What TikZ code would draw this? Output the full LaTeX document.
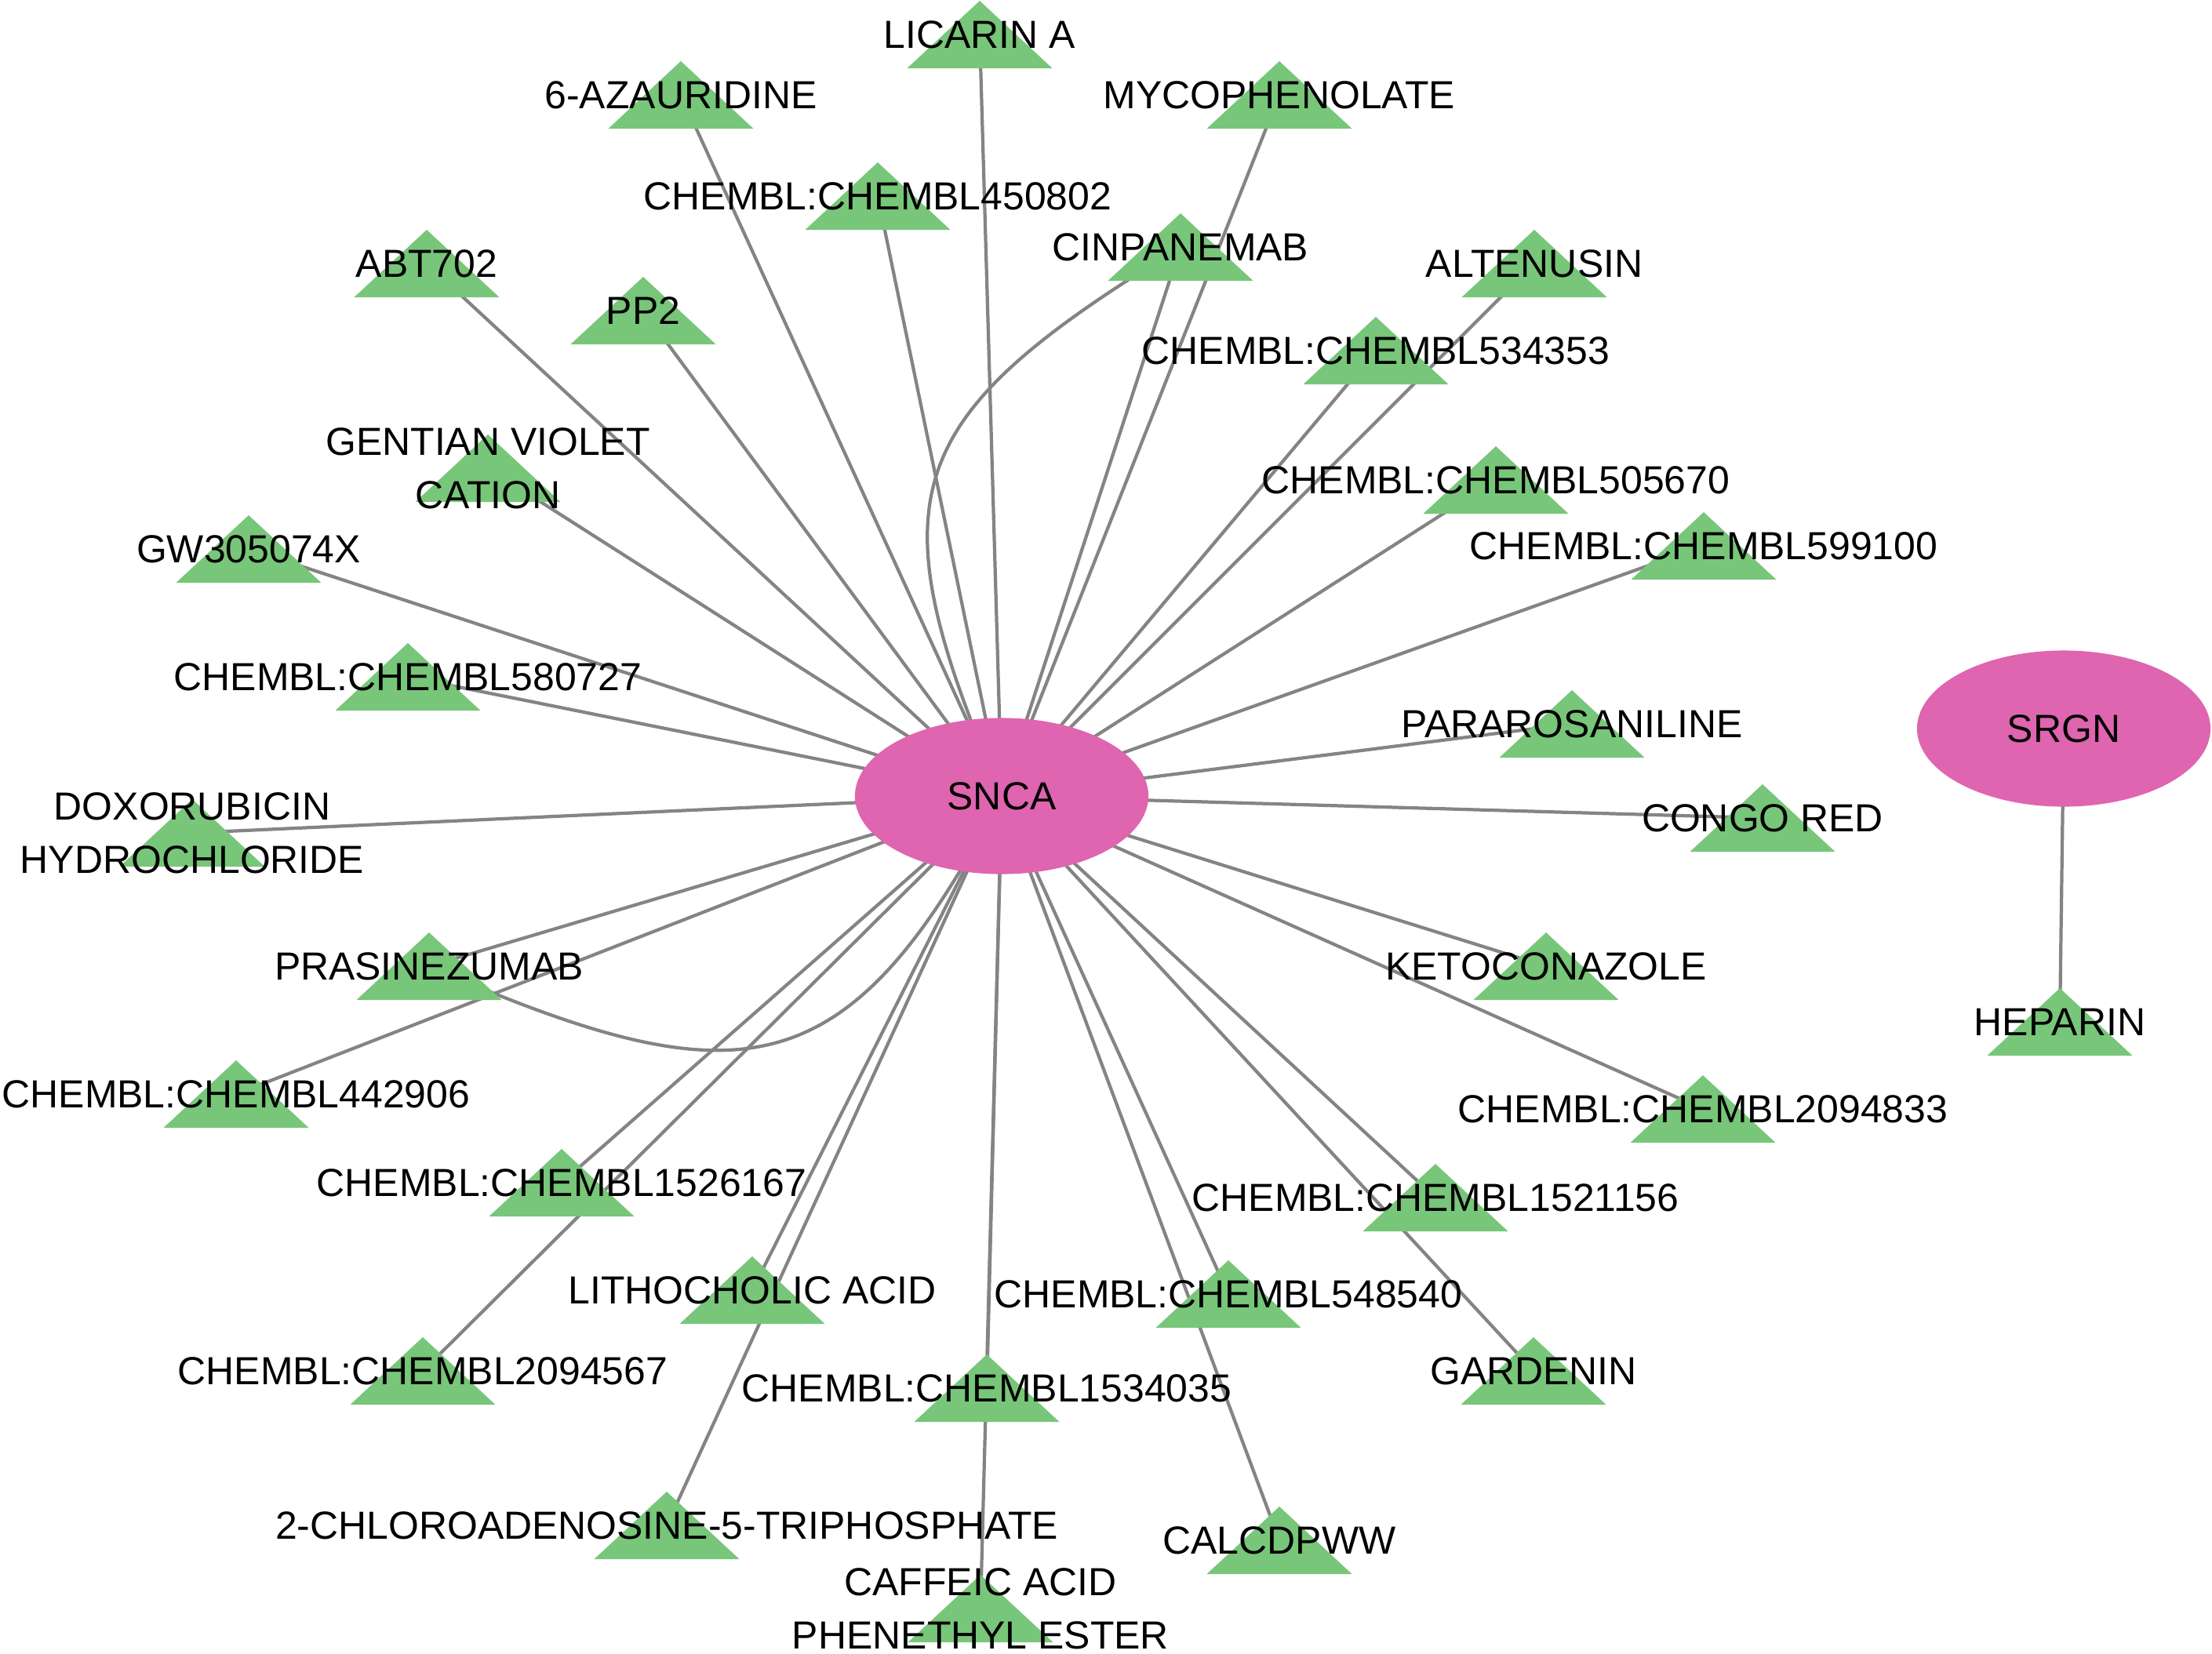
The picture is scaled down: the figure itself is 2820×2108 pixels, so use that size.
\documentclass[tikz,border=0pt]{standalone}
\usepackage{fontspec}
\setmainfont{Liberation Sans}
\usetikzlibrary{shapes.geometric}
\definecolor{drugfill}{HTML}{78C679}
\definecolor{genefill}{HTML}{DF65B0}
\definecolor{edgegray}{HTML}{848484}
\pgfdeclarelayer{edgelayer}
\pgfdeclarelayer{textlayer}
\pgfsetlayers{edgelayer,main,textlayer}
\tikzset{
  gene/.style={ellipse, fill=genefill, draw=none, minimum width=3.74cm, minimum height=1.99cm, inner sep=0pt, font=\fontsize{14.2pt}{17pt}\selectfont},
  lbl/.style={inner sep=0pt, align=center, font=\fontsize{14.2pt}{19.4pt}\selectfont},
  tri/.style={fill=drugfill},
  edge/.style={draw=edgegray, line width=1.2pt},
}
\newcommand\drugnode[4]{%
  \coordinate (#1) at (#2,#3);
  \fill[tri] (#1) ++(-92.5,43) -- ++(92.5,-86) -- ++(92.5,86) -- cycle;
  \begin{pgfonlayer}{textlayer}\node[lbl] (#1-lab) at (#1) {#4};\end{pgfonlayer}}
\begin{document}
\begin{tikzpicture}[x=0.01cm, y=-0.01cm]
\useasboundingbox (0,0) rectangle (2820,2108);
\node[gene] (snca) at (1277,1015) {SNCA};
\node[gene] (srgn) at (2631,929) {SRGN};
\drugnode{licarin}{1249}{44}{LICARIN A}
\drugnode{azaur}{868}{121}{6-AZAURIDINE}
\drugnode{myco}{1631}{121}{MYCOPHENOLATE}
\drugnode{c450802}{1119}{250}{CHEMBL:CHEMBL450802}
\drugnode{cinpa}{1505}{315}{CINPANEMAB}
\drugnode{abt}{544}{336}{ABT702}
\drugnode{alten}{1956}{336}{ALTENUSIN}
\drugnode{pp2}{820}{396}{PP2}
\drugnode{c534353}{1754}{447}{CHEMBL:CHEMBL534353}
\drugnode{gentian}{622}{597}{GENTIAN VIOLET\\CATION}
\drugnode{c505670}{1907}{612}{CHEMBL:CHEMBL505670}
\drugnode{gw}{317}{700}{GW305074X}
\drugnode{c599100}{2172}{696}{CHEMBL:CHEMBL599100}
\drugnode{c580727}{520}{863}{CHEMBL:CHEMBL580727}
\drugnode{parar}{2004}{923}{PARAROSANILINE}
\drugnode{doxo}{245}{1062}{DOXORUBICIN\\HYDROCHLORIDE}
\drugnode{congo}{2247}{1043}{CONGO RED}
\drugnode{prasi}{547}{1232}{PRASINEZUMAB}
\drugnode{keto}{1971}{1232}{KETOCONAZOLE}
\drugnode{heparin}{2626}{1303}{HEPARIN}
\drugnode{c442906}{301}{1395}{CHEMBL:CHEMBL442906}
\drugnode{c2094833}{2171}{1414}{CHEMBL:CHEMBL2094833}
\drugnode{c1526167}{716}{1508}{CHEMBL:CHEMBL1526167}
\drugnode{c1521156}{1830}{1527}{CHEMBL:CHEMBL1521156}
\drugnode{litho}{959}{1645}{LITHOCHOLIC ACID}
\drugnode{c548540}{1566}{1650}{CHEMBL:CHEMBL548540}
\drugnode{c2094567}{539}{1748}{CHEMBL:CHEMBL2094567}
\drugnode{gardenin}{1955}{1748}{GARDENIN}
\drugnode{c1534035}{1258}{1770}{CHEMBL:CHEMBL1534035}
\drugnode{chloro}{850}{1945}{2-CHLOROADENOSINE-5-TRIPHOSPHATE}
\drugnode{calc}{1631}{1964}{CALCDPWW}
\drugnode{caffeic}{1250}{2051}{CAFFEIC ACID\\PHENETHYL ESTER}
\begin{pgfonlayer}{edgelayer}
\foreach \d in {licarin,azaur,myco,c450802,cinpa,abt,alten,pp2,c534353,gentian,c505670,gw,c599100,c580727,parar,doxo,congo,prasi,keto,c442906,c2094833,c1526167,c1521156,litho,c548540,c2094567,gardenin,c1534035,chloro,calc,caffeic}
  \draw[edge] (snca.center) -- (\d);
\draw[edge] (cinpa) .. controls (1147,534) and (1112,629) .. (snca.center);
\draw[edge] (prasi) .. controls (942,1403) and (1079,1396) .. (snca.center);
\draw[edge] (srgn.center) -- (heparin);
\end{pgfonlayer}
\end{tikzpicture}
\end{document}
